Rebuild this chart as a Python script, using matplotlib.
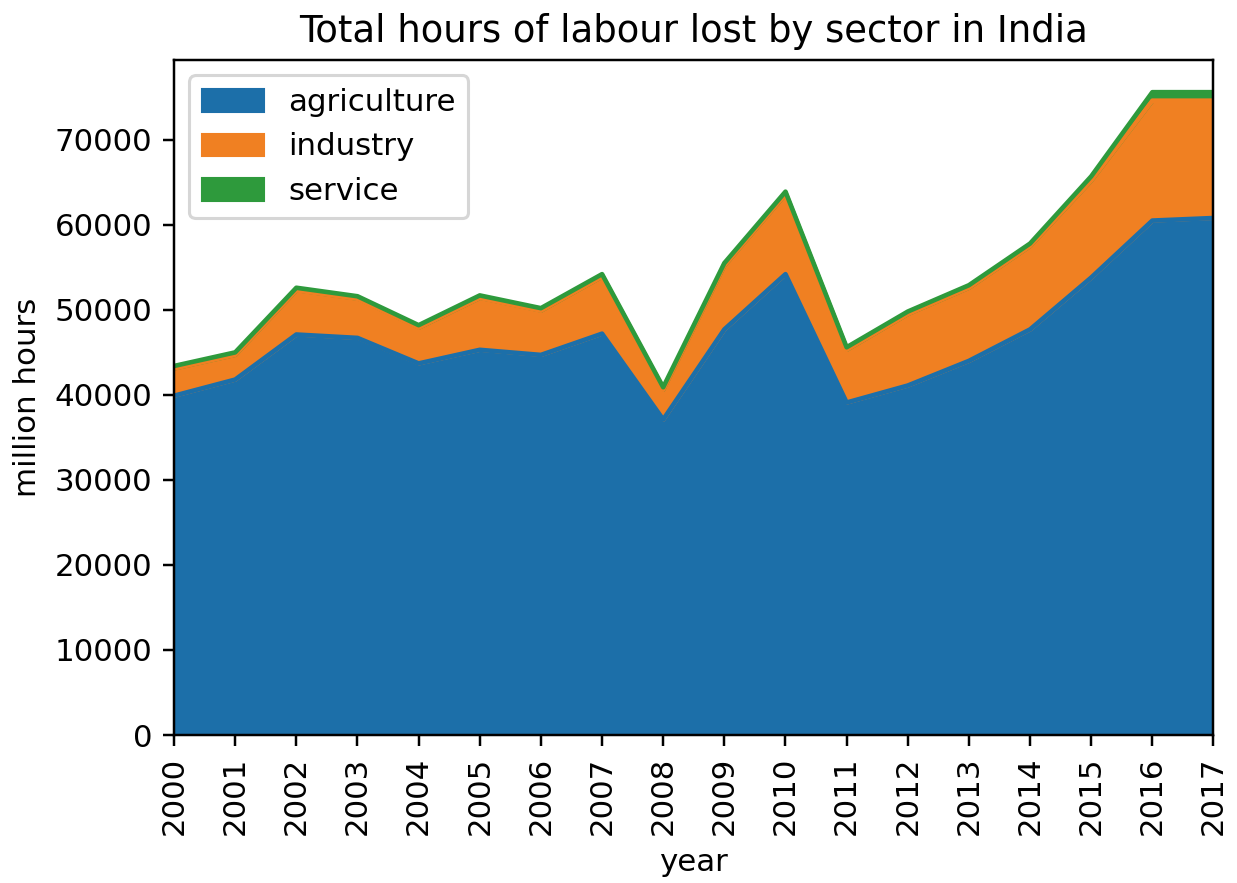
import numpy as np
import pandas as pd
import matplotlib
matplotlib.use("Agg")
import matplotlib.pyplot as plt

years = list(range(2000, 2018))
agriculture = [39900, 41800, 47100, 46700, 43700, 45300, 44700, 47200, 37100,
               47700, 54200, 39100, 41100, 44000, 47700, 53800, 60500, 60800]
total = [43400, 45000, 52600, 51600, 48200, 51700, 50200, 54200, 40900,
         55500, 63900, 45600, 49800, 52900, 57800, 65700, 75600, 75600]
service = [300, 300, 300, 300, 300, 300, 300, 300, 300,
           300, 300, 300, 300, 300, 300, 500, 1000, 1000]
industry = [t - a - s for t, a, s in zip(total, agriculture, service)]

colors = ["#1c6fa9", "#f08022", "#2e9a3c"]

df = pd.DataFrame({"agriculture": agriculture, "industry": industry,
                   "service": service}, index=years)
df.index.name = "year"

DPI = 222
fig, ax = plt.subplots(figsize=(1237 / DPI, 883 / DPI), dpi=DPI)
df.plot.area(ax=ax, color=colors)
ax.set_title("Total hours of labour lost by sector in India")
ax.set_ylabel("million hours")
ax.set_xlabel("year")
ax.set_xticks(years)
ax.set_xticklabels([str(y) for y in years], rotation=90)
ax.set_xlim(2000, 2017)
ax.legend(loc="upper left")

fig.subplots_adjust(left=0.1407, right=0.981, top=0.932, bottom=0.1676)
fig.savefig("out.png", dpi=DPI)
